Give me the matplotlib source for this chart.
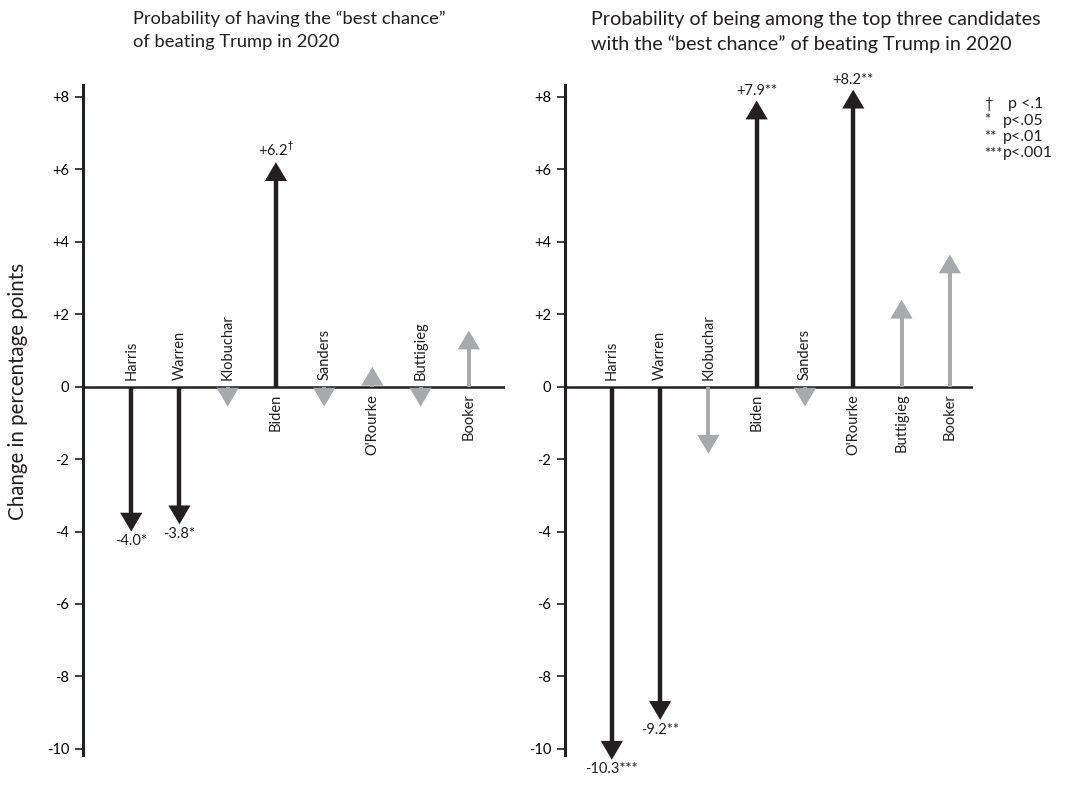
import matplotlib
matplotlib.use("Agg")
import matplotlib.pyplot as plt
from matplotlib.patches import Polygon

plt.rcParams['font.family'] = ['Lato', 'DejaVu Sans']

candidates = ["Harris", "Warren", "Klobuchar", "Biden", "Sanders", "O'Rourke", "Buttigieg", "Booker"]
values_best = [-4.0, -3.8, -0.55, 6.2, -0.55, 0.55, -0.55, 1.55]
labels_best = ["-4.0*", "-3.8*", None, "+6.2$^{\\dagger}$", None, None, None, None]
signif_best = [True, True, False, True, False, False, False, False]

values_top3 = [-10.3, -9.2, -1.85, 7.9, -0.55, 8.2, 2.4, 3.65]
labels_top3 = ["-10.3***", "-9.2**", None, "+7.9**", None, "+8.2**", None, None]
signif_top3 = [True, True, False, True, False, True, False, False]

titles = ["Probability of having the \u201cbest chance\u201d\nof beating Trump in 2020",
          "Probability of being among the top three candidates\nwith the \u201cbest chance\u201d of beating Trump in 2020"]
yticks = [-10, -8, -6, -4, -2, 0, 2, 4, 6, 8]
ytick_labels = ["-10", "-8", "-6", "-4", "-2", "0", "+2", "+4", "+6", "+8"]
legend_symbols = ["\u2020", "*", "**", "***"]
legend_texts = ["p <.1", "p<.05", "p<.01", "p<.001"]

BLACK = "#231f20"
GRAY = "#a7a9ac"

W, H = 1065, 796
fig = plt.figure(figsize=(W / 100, H / 100), dpi=100)

def px_axes(x0, x1, y0, y1):
    return fig.add_axes([x0 / W, 1 - y1 / H, (x1 - x0) / W, (y1 - y0) / H])

ax1 = px_axes(83, 505, 85, 755)
ax2 = px_axes(565, 973, 85, 755)

YLIM = (-10.17, 8.33)
HEAD_LEN = 0.52
HEAD_HW = 0.23

def draw_panel(ax, values, labels, signif, xlim, title, title_x, title_size):
    ax.set_xlim(*xlim)
    ax.set_ylim(*YLIM)
    for s in ["top", "right", "bottom"]:
        ax.spines[s].set_visible(False)
    ax.spines["left"].set_linewidth(2.2)
    ax.spines["left"].set_color(BLACK)
    ax.set_xticks([])
    ax.set_yticks(yticks)
    ax.set_yticklabels(ytick_labels, fontsize=10.5)
    ax.tick_params(axis="y", length=6, width=1.2, color=BLACK, pad=4)
    ax.axhline(0, color=BLACK, lw=1.8, zorder=2)
    for i, (v, lab, sg) in enumerate(zip(values, labels, signif)):
        col = BLACK if sg else GRAY
        sgn = 1 if v > 0 else -1
        if abs(v) > HEAD_LEN:
            base = v - sgn * HEAD_LEN
            ax.plot([i, i], [0, base + sgn * 0.05], color=col, lw=3.2 if sg else 2.8,
                    solid_capstyle="butt", zorder=3, clip_on=False)
        else:
            base = 0
        tri = Polygon([[i - HEAD_HW, base], [i + HEAD_HW, base], [i, v]], closed=True,
                      facecolor=col, edgecolor="none", zorder=4, clip_on=False)
        ax.add_patch(tri)
        if v < 0:
            ax.annotate(candidates[i], (i, 0), xytext=(0, 5), textcoords="offset points",
                        rotation=90, ha="center", va="bottom", fontsize=10.5, color=BLACK)
        else:
            ax.annotate(candidates[i], (i, 0), xytext=(0, -5), textcoords="offset points",
                        rotation=90, ha="center", va="top", fontsize=10.5, color=BLACK)
        if lab:
            if v < 0:
                ax.annotate(lab, (i, v), xytext=(0, -2), textcoords="offset points",
                            ha="center", va="top", fontsize=10.5, color=BLACK, annotation_clip=False)
            else:
                ax.annotate(lab, (i, v), xytext=(0, 2), textcoords="offset points",
                            ha="center", va="bottom", fontsize=10.5, color=BLACK, annotation_clip=False)
    fig.text(title_x / W, 1 - 11 / H, title, ha="left", va="top", fontsize=title_size,
             color=BLACK, linespacing=1.5)

draw_panel(ax1, values_best, labels_best, signif_best, (-1.0, 7.75), titles[0], 133, 13.2)
draw_panel(ax2, values_top3, labels_top3, signif_top3, (-0.97, 7.48), titles[1], 591, 14.2)

fig.text(18 / W, 1 - 391 / H, "Change in percentage points", rotation=90,
         ha="center", va="center", fontsize=14.8, color=BLACK)

for k, (sym, txt) in enumerate(zip(legend_symbols, legend_texts)):
    y = 1 - (104 + k * 16.5) / H
    fig.text(984 / W, y, sym, ha="left", va="center", fontsize=10.5, color=BLACK)
    fig.text((1003 if k else 1008) / W, y, txt, ha="left", va="center", fontsize=11.5, color=BLACK)

fig.savefig("out.png", dpi=100, facecolor="white")
